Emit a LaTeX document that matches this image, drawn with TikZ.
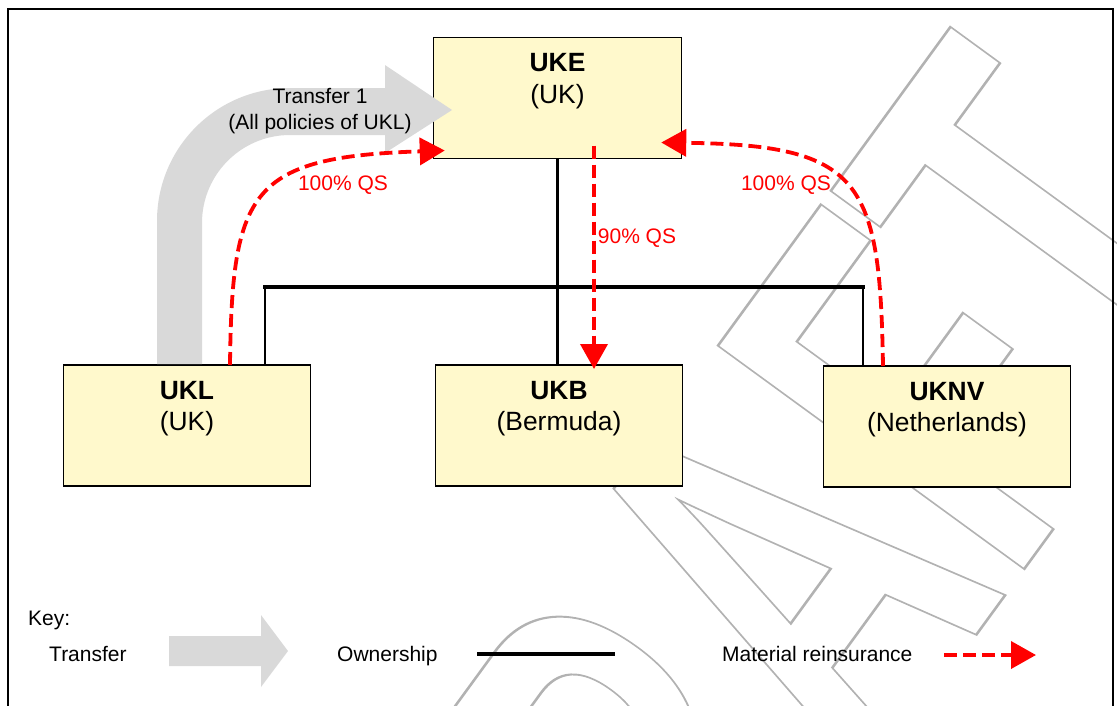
\documentclass[tikz,border=0pt]{standalone}
\usepackage{fontspec}
\setmainfont{Liberation Sans}
\newfontfamily\wmfont[Kerning=Off]{Liberation Sans}
\usetikzlibrary{arrows.meta,calc}
\definecolor{boxfill}{RGB}{255,249,204}
\definecolor{xfergray}{RGB}{217,217,217}
\definecolor{wmgray}{RGB}{178,178,178}
\definecolor{qsred}{RGB}{255,0,0}
\newcommand\boxlines[2]{\parbox[t][121pt][t]{247.5pt}{\centering\fontsize{26.4}{31.5}\selectfont\rule{0pt}{34pt}\textbf{#1}\\#2}}
\tikzset{
  entbox/.style={draw=black, line width=1.2pt, fill=boxfill, inner sep=0pt, outer sep=0pt},
  own/.style={draw=black, line width=2.3pt},
  ownbar/.style={draw=black, line width=3.6pt, line cap=rect},
  reins/.style={draw=qsred, line width=3.8pt, dash pattern=on 13pt off 6pt,
    -{Triangle[length=25pt,width=27pt]}},
  lbl/.style={text=qsred, font=\fontsize{21}{24}\selectfont, inner sep=0pt},
  txt/.style={font=\fontsize{21}{24}\selectfont, inner sep=0pt, text height=15pt, text depth=4.5pt},
  xfer/.style={fill=xfergray, draw=none},
  wm/.style={anchor=base west, inner sep=0pt, outer sep=0pt, transform shape, text=wmgray,
    font=\wmfont\bfseries\fontsize{345}{345}\selectfont},
}
\begin{document}
\begin{tikzpicture}[x=1pt,y=-1pt]
\useasboundingbox (0,0) rectangle (1117,705);
\clip (0,0) rectangle (1117,705);
% watermark
\begin{scope}[shift={(570.3,1191.5)},rotate=53.9,yscale=1.597]
\node[wm] (draft) at (0,0) {\special{pdf:literal direct 1 Tr 1.6 w}DRAFT\special{pdf:literal direct 0 Tr}};
\end{scope}
% boxes
\node[entbox] (uke) at (557.5,98) {\boxlines{UKE}{(UK)}};
\node[entbox] (ukl) at (187,425.5) {\boxlines{UKL}{(UK)}};
\node[entbox] (ukb) at (559,425.5) {\boxlines{UKB}{(Bermuda)}};
\node[entbox] (uknv) at (947,426.5) {\boxlines{UKNV}{(Netherlands)}};
% ownership
\coordinate (barL) at (265,287);
\coordinate (barR) at (863,287);
\draw[own] (uke.south) -- (uke.south |- ukb.north);
\draw[own] (barL) -- (barL |- ukl.north);
\draw[own] (barR) -- (barR |- uknv.north);
\draw[ownbar] (barL) -- (barR);
% transfer arrow
\fill[xfer] (157,364) -- (157,221) .. controls (157,147.5) and (216.5,88) .. (290,88)
  -- (385,88) -- (385,65) -- (452,110) -- (385,153) -- (385,135) -- (290,135)
  .. controls (241.4,135) and (202,174.4) .. (202,223) -- (202,364) -- cycle;
\node[font=\fontsize{21}{26}\selectfont, align=center, inner sep=0pt] (t1) at (320,111) {Transfer 1\\(All policies of UKL)};
% reinsurance
\draw[reins] ($(ukl.north)+(43,0)$) .. controls (232,190) and (250,157) .. ($(uke.south west)+(11,-8)$);
\draw[reins] ($(uke.south)+(36.5,-13)$) -- ($(ukb.north)+(35,4)$);
\draw[reins] ($(uknv.north)+(-64,0)$) .. controls (880,180) and (862,145) .. ($(uke.south east)+(-20,-16)$);
\node[lbl] (qs1) at (343,185) {100\% QS};
\node[lbl] (qs2) at (637,238) {90\% QS};
\node[lbl] (qs3) at (786,185) {100\% QS};
% legend
\node[txt, anchor=west] (key) at (28,620) {Key:};
\node[txt, anchor=west] (ltransfer) at (49,656) {Transfer};
\fill[xfer] (169,636) -- (261,636) -- (261,615) -- (288,651) -- (261,687) -- (261,666) -- (169,666) -- cycle;
\node[txt, anchor=west] (lown) at (337,656) {Ownership};
\coordinate (ownA) at (477,654);
\coordinate (ownB) at (615,654);
\draw[draw=black, line width=4pt] (ownA) -- (ownB);
\node[txt, anchor=west] (lrein) at (722,656) {Material reinsurance};
\coordinate (reA) at (944,655);
\coordinate (reB) at (1036,655);
\draw[reins] (reA) -- (reB);
% frame
\draw[line width=2pt] (8,730) -- (8,9) -- (1113,9) -- (1113,730);
\end{tikzpicture}
\end{document}
